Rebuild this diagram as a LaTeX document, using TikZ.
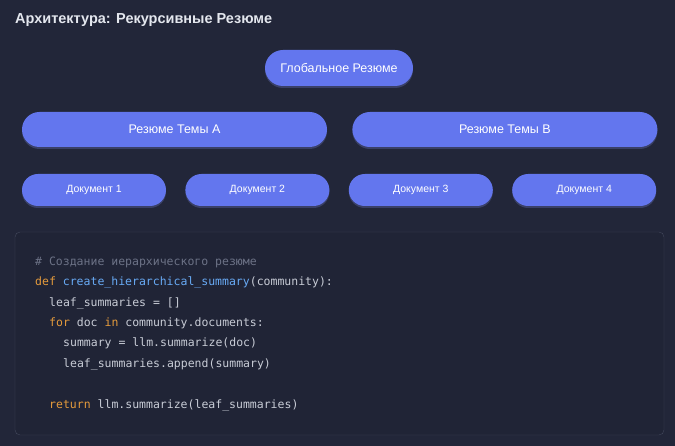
\documentclass[tikz,border=0pt]{standalone}
\usepackage{fontspec}
\setmainfont{Liberation Sans}
\setmonofont{DejaVu Sans Mono}
\usepackage{tikz}
\usetikzlibrary{positioning,shadows}

\definecolor{bgdark}{RGB}{34,38,57}
\definecolor{btnblue}{RGB}{99,118,238}
\definecolor{codeframe}{RGB}{68,73,93}
\definecolor{codebg}{RGB}{32,36,54}
\definecolor{codetext}{RGB}{200,204,214}
\definecolor{codecomment}{RGB}{108,114,134}
\definecolor{codekw}{RGB}{229,155,60}
\definecolor{codefn}{RGB}{104,170,245}
\definecolor{titletext}{RGB}{228,231,238}

\newcommand{\kw}[1]{\textcolor{codekw}{#1}}
\newcommand{\fn}[1]{\textcolor{codefn}{#1}}

\begin{document}
\begin{tikzpicture}[x=1pt,y=-1pt,
            pill/.style={fill=btnblue,text=white,inner sep=0pt,
              drop shadow={shadow xshift=0pt,shadow yshift=-2pt,opacity=.25,fill=btnblue!80!white}},
            topnode/.style={pill,minimum width=148pt,minimum height=36pt,rounded corners=18pt,
              font=\fontsize{12.5}{14}\selectfont},
            topic/.style={pill,minimum width=305pt,minimum height=35pt,rounded corners=17.5pt,
              font=\fontsize{12.5}{14}\selectfont},
            doc/.style={pill,minimum width=144pt,minimum height=32pt,rounded corners=16pt,
              font=\fontsize{10.5}{12}\selectfont},
            code/.style={anchor=base west,inner sep=0pt,text=codetext,
              font=\ttfamily\fontsize{11.5}{13}\selectfont}
          ]
          % background
          \fill[bgdark] (0,0) rectangle (675,446);

          \node[anchor=base west,inner sep=0pt,text=titletext,font=\bfseries\fontsize{14.5}{17}\selectfont]
            (title) at (15,24) {Архитектура: Рекурсивные Резюме};

          %hierarchy
          \node[topnode] (global) at (339,68) {Глобальное Резюме};
          \node[topic] (topicA) at (174.5,129.5) {Резюме Темы A};
          \node[topic,right=25pt of topicA] (topicB) {Резюме Темы B};

          \node[doc] (doc1) at (94,190) {Документ 1};
          \node[doc,right=19pt of doc1] (doc2) {Документ 2};
          \node[doc,right=19pt of doc2] (doc3) {Документ 3};
          \node[doc,right=19pt of doc3] (doc4) {Документ 4};

          %code block
          \draw[codeframe,fill=codebg,rounded corners=5pt] (15,232) rectangle (664,435);
          \node[code,text=codecomment] (line1) at (35,266) {\# Создание иерархического резюме};
          \node[code] (line2) at (35,286) {\kw{def} \fn{create\_hierarchical\_summary}(community):};
          \node[code] (line3) at (49,307) {leaf\_summaries = []};
          \node[code] (line4) at (49,327) {\kw{for} doc \kw{in} community.documents:};
          \node[code] (line5) at (63,347) {summary = llm.summarize(doc)};
          \node[code] (line6) at (63,368) {leaf\_summaries.append(summary)};
          \node[code] (line7) at (49,409) {\kw{return} llm.summarize(leaf\_summaries)};

      \end{tikzpicture}
\end{document}
